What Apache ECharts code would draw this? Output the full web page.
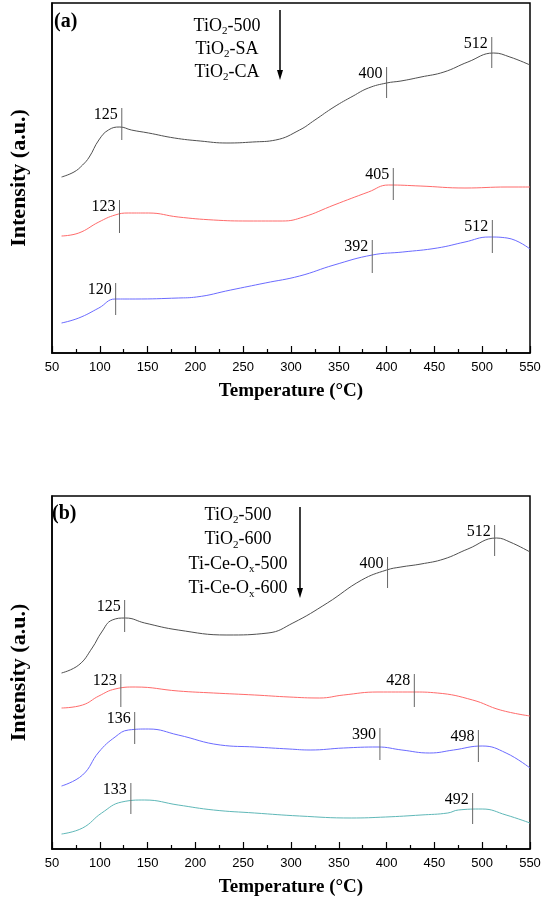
<!DOCTYPE html>
<html>
<head>
<meta charset="utf-8">
<script src="https://cdn.jsdelivr.net/npm/echarts@6/dist/echarts.min.js"></script>
<style>html,body{margin:0;padding:0;background:#fff;}#c{width:550px;height:902px;}</style>
</head>
<body>
<div id="c"></div>
<script>
// ---------- Panel (a) data ----------
const blackA_T = [60,73,82,89,99,109,121,133,151,178,205,233,260,284,309,325,345,365,381,400,415,436,460,485,512,529,550];
const blackA_I = [176,181,188,196,213,223,226,223,220,215,212,210,211,213,223,233,246,257,265,270,272,276,281,291,300,296,288];
const redA_T = [60,78,99,116,130,151,182,219,255,291,313,345,381,402,435,482,526,550];
const redA_I = [117,120,131,138,140,140,136,133,132,132,136,148,161,168,167,165,166,166];
const blueA_T = [60,78,99,116,137,182,201,237,273,309,345,385,417,453,482,507,526,550];
const blueA_I = [30,35,45,54,54,55,56,63,70,77,88,98,101,105,111,116,115,104];
const markA_T = [123,400,510,407,120.6,385,510.6,116.6];
const markA_low = [213,255,285,153,120,80,100,38];
const markA_high = [245,286,316,185,153,113,133,70];
const markA_label = ['125','400','512','405','123','392','512','120'];
const legendA = ['TiO{s|2}-500','TiO{s|2}-SA','TiO{s|2}-CA'];

// ---------- Panel (b) data ----------
const blackB_T = [60,78,92,102,113,127,147,182,233,276,302,338,374,400,415,436,460,485,515,529,550];
const blackB_I = [176,184,201,217,229,231,226,219,214,216,226,246,269,279,282,285,290,300,311,307,297];
const redB_T = [60,82,99,116,137,182,219,262,298,330,355,391,427,453,490,519,550];
const redB_I = [141,144,153,160,162,158,156,154,152,151,154,157,157,156,149,139,133];
const blueB_T = [60,82,99,116,130,151,182,226,262,298,320,355,391,416,445,470,500,525,550];
const blueB_I = [63,74,97,112,119,120,114,104,102,100,99,101,102,99,96,99,103,96,81];
const tealB_T = [60,82,102,123,147,182,219,262,309,363,399,436,464,475,500,525,550];
const tealB_I = [15,21,36,47,49,44,39,36,33,31,32,34,36,39,40,34,26];
const markB_T = [126,401,513,122,429,136.5,393,496,132.5,490];
const markB_low = [217,261,293,142,142,105,89,87,35,25];
const markB_high = [249,292,324,175,175,137,121,119,66,56];
const markB_label = ['125','400','512','123','428','136','390','498','133','492'];
const legendB = ['TiO{s|2}-500','TiO{s|2}-600','Ti-Ce-O{s|x}-500','Ti-Ce-O{s|x}-600'];

const xTicks = {min:50, max:550, interval:50};
const SERIF = '"Liberation Serif","Times New Roman",serif';
const SANS = '"Liberation Sans",Arial,sans-serif';

function zip(a,b){return a.map((v,i)=>[v,b[i]]);}

function xAxisCfg(gi){
  return {
    type:'value', gridIndex:gi, min:xTicks.min, max:xTicks.max, interval:xTicks.interval,
    name:'Temperature (°C)', nameLocation:'middle', nameGap:29,
    nameTextStyle:{fontFamily:SERIF, fontWeight:'bold', fontSize:19, color:'#000'},
    axisLine:{show:true, onZero:false, lineStyle:{color:'#000', width:1.5}},
    axisTick:{show:true, inside:true, length:7, lineStyle:{color:'#000', width:1.2}},
    minorTick:{show:true, splitNumber:2, length:4, lineStyle:{color:'#000', width:1.2}},
    axisLabel:{margin:8, fontFamily:SANS, fontSize:13, color:'#000'},
    splitLine:{show:false}
  };
}
function yAxisCfg(gi, max){
  return {
    type:'value', gridIndex:gi, min:0, max:max,
    name:'Intensity (a.u.)', nameLocation:'middle', nameGap:22,
    nameTextStyle:{fontFamily:SERIF, fontWeight:'bold', fontSize:22, color:'#000'},
    axisLine:{show:true, lineStyle:{color:'#000', width:1.5}},
    axisTick:{show:false}, axisLabel:{show:false}, splitLine:{show:false}
  };
}
function lineSeries(gi, T, I, color){
  return {type:'line', xAxisIndex:gi, yAxisIndex:gi, data:zip(T,I), smooth:0.45, symbol:'none',
    lineStyle:{color:color, width:1}, silent:true, z:3};
}
function markSeries(gi, T, lo, hi, labels){
  return {
    type:'custom', xAxisIndex:gi, yAxisIndex:gi, silent:true, z:5,
    data:T.map((t,i)=>[t, lo[i], hi[i]]),
    encode:{x:0, y:[1,2]},
    renderItem:function(params, api){
      const i = params.dataIndex;
      const top = api.coord([api.value(0), api.value(2)]);
      const bot = api.coord([api.value(0), api.value(1)]);
      return {type:'group', children:[
        {type:'line', shape:{x1:top[0], y1:top[1], x2:bot[0], y2:bot[1]}, style:{stroke:'#666', lineWidth:1}},
        {type:'text', style:{text:labels[i], x:top[0]-4, y:top[1]+7, align:'right', verticalAlign:'middle',
          fontFamily:SERIF, fontSize:16, fill:'#000'}}
      ]};
    }
  };
}

const graphics = [];
function addLegend(lines, cx, y0, dy){
  lines.forEach((t,i)=>{
    graphics.push({type:'text', x:cx, y:y0+i*dy, silent:true, z:10, style:{
      text:t, align:'center', verticalAlign:'middle', fontFamily:SERIF, fontSize:18, lineHeight:22, fill:'#000',
      rich:{s:{fontFamily:SERIF, fontSize:11, lineHeight:22, verticalAlign:'bottom', fill:'#000'}}
    }});
  });
}
function addArrow(x, y1, y2){
  graphics.push({type:'line', silent:true, z:10, shape:{x1:x, y1:y1, x2:x, y2:y2-6}, style:{stroke:'#000', lineWidth:1.5}});
  graphics.push({type:'polygon', silent:true, z:10, shape:{points:[[x-3,y2-10],[x+3,y2-10],[x,y2]]}, style:{fill:'#000'}});
}
function addTag(t, x, y){
  graphics.push({type:'text', x:x, y:y, silent:true, z:10, style:{text:t, align:'left', verticalAlign:'middle',
    fontFamily:SERIF, fontWeight:'bold', fontSize:20, fill:'#000'}});
}
addLegend(legendA, 227, 26, 23);
addArrow(280, 10, 80);
addTag('(a)', 54, 22);
addLegend(legendB, 238, 515, 24.5);
addArrow(300, 507, 598);
addTag('(b)', 52, 514);

const chart = echarts.init(document.getElementById('c'), null, {renderer:'canvas'});
chart.setOption({
  animation:false,
  backgroundColor:'#fff',
  grid:[
    {left:46.7, top:3, width:483.3, height:350, show:true, borderColor:'#000', borderWidth:1.5, backgroundColor:'transparent'},
    {left:46.7, top:496, width:483.3, height:353, show:true, borderColor:'#000', borderWidth:1.5, backgroundColor:'transparent'}
  ],
  xAxis:[xAxisCfg(0), xAxisCfg(1)],
  yAxis:[yAxisCfg(0,350), yAxisCfg(1,353)],
  series:[
    lineSeries(0, blackA_T, blackA_I, '#505050'),
    lineSeries(0, redA_T, redA_I, '#ff6b6b'),
    lineSeries(0, blueA_T, blueA_I, '#6b6bff'),
    markSeries(0, markA_T, markA_low, markA_high, markA_label),
    lineSeries(1, blackB_T, blackB_I, '#505050'),
    lineSeries(1, redB_T, redB_I, '#ff6b6b'),
    lineSeries(1, blueB_T, blueB_I, '#6b6bff'),
    lineSeries(1, tealB_T, tealB_I, '#5fb8b8'),
    markSeries(1, markB_T, markB_low, markB_high, markB_label)
  ],
  graphic:graphics
});
</script>
</body>
</html>
